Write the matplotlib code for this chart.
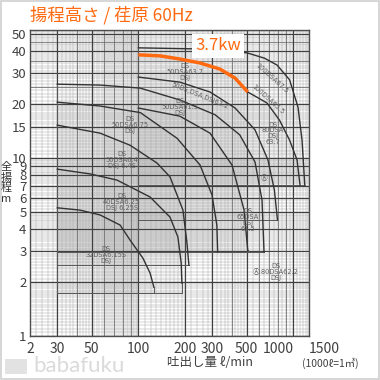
import numpy as np
import matplotlib
matplotlib.use("Agg")
import matplotlib.pyplot as plt
from matplotlib.patches import Rectangle

plt.rcParams["font.family"] = ["Noto Sans CJK JP", "DejaVu Sans"]

#
# Data: flow Q [L/min], head H [m]
#

# curves starting at 30 L/min
q_32 = [30, 41.9, 56.6, 76.3, 88.4, 107, 119, 126]
h_32 = [5.25, 5.10, 4.79, 4.20, 3.46, 2.74, 2.26, 1.88]
q_40 = [30, 48.8, 72.8, 119, 160, 180, 189, 191]
h_40 = [8.66, 8.14, 7.52, 6.04, 4.66, 3.60, 2.57, 1.98]
q_50_64 = [30, 56.6, 88.4, 132, 160, 194, 206, 212]
h_50_64 = [15.3, 13.8, 11.8, 9.37, 7.84, 5.10, 3.33, 2.50]
q_50_675 = [30, 56.6, 103, 178, 250, 299, 321, 325]
h_50_675 = [20.6, 19.6, 18.0, 12.9, 9.14, 6.19, 4.20, 2.96]
q_50_622 = [30, 56.6, 103, 185, 313, 451, 566, 628, 647]
h_50_622 = [26.0, 25.7, 24.7, 21.2, 17.5, 13.5, 9.50, 5.81, 2.96]

# curves starting at 100 L/min
q_50_615 = [100, 185, 290, 402, 481, 508]
h_50_615 = [19.1, 17.2, 13.8, 9.14, 5.10, 3.04]
q_50_637 = [100, 185, 290, 421, 566, 686, 755, 790]
h_50_637 = [28.5, 26.7, 23.5, 19.1, 14.4, 9.75, 6.60, 4.49]
q_100_655 = [508, 676, 815, 946, 1057, 1104]
h_100_655 = [23.5, 20.4, 16.3, 12.6, 9.75, 7.06]
q_100_675 = [100, 250, 502, 651, 785, 946, 1072, 1138, 1185]
h_100_675 = [41.6, 41.0, 39.0, 36.4, 33.3, 27.5, 19.3, 12.6, 7.06]

# highlighted 3.7kw curve
q_37kw = [100, 138, 185, 250, 336, 421, 508]
h_37kw = [38.0, 37.5, 36.0, 34.2, 31.6, 28.1, 23.5]

# bottom of each operating range
h_min_32 = 1.74
h_min_40 = 1.74
h_min_50_64 = 2.50
h_min_50_675 = 2.96
h_min_50_622 = 2.96
h_min_50_615 = 2.96
h_min_50_637 = 4.49
h_min_100 = 7.06

x_tick_vals = [20, 30, 50, 100, 200, 300, 500, 1000, 1260]
x_tick_labels = ["2", "30", "50", "100", "200", "300", "500", "1000", "1500"]
y_tick_vals = [1, 2, 3, 4, 5, 6, 7, 8, 9, 10, 15, 20, 30, 40, 50]

model_labels = [
    ("DS\n50DSA63.7\nDSJ", 200, 30.4, 0),
    ("50DS,DSA,DSJ62.2", 250, 22.3, -22),
    ("100DSA67.5", 728, 28.1, -42),
    ("100DSA65.5", 690, 21.5, -42),
    ("DS\n80DSA\nDSJ\n63.7", 740, 13.8, 0),
    ("DS\n50DSA61.5\nDSJ", 185, 19.3, 0),
    ("DS\n50DSA6.75\nDSJ", 88, 15.3, 0),
    ("DS\n50DSA6.4\nDSJ 6.4S", 78, 9.75, 0),
    ("DS\n40DSA6.25\nDSJ 6.25S", 78, 5.66, 0),
    ("DS\n32DSA6.15S\nDSJ", 61.5, 2.85, 0),
    ("DS\n65DSA\nDSJ\n61.5", 508, 4.49, 0),
    ("DS\nⒶ:80DSA62.2\nDSJ", 770, 2.29, 0),
    ("Ⓐ", 651, 7.73, 0),
]

ORANGE = "#FF6A10"

fig = plt.figure(figsize=(3.8, 3.8), dpi=100)
fig.patch.set_facecolor("white")
ax = fig.add_axes([30 / 380, 44 / 380, 279 / 380, 306 / 380])
ax.set_xscale("log")
ax.set_yscale("log")
ax.set_xlim(20, 1262)
ax.set_ylim(1, 52.4)

# graph paper grid
fine_x = np.concatenate([np.arange(20, 100, 2), np.arange(100, 200, 10),
                         np.arange(200, 500, 20), np.arange(500, 1270, 50)])
mid_x = np.concatenate([np.arange(20, 100, 10), np.arange(100, 1001, 100)])
dark_x = [30, 50, 100, 200, 300, 500, 1000]
fine_y = np.concatenate([np.arange(1, 2, 0.05), np.arange(2, 5, 0.1),
                         np.arange(5, 10, 0.2), np.arange(10, 20, 0.5),
                         np.arange(20, 52.4, 1)])
mid_y = np.concatenate([np.arange(1, 10, 1), np.arange(10, 51, 5)])

ax.vlines(fine_x, 1, 52.4, color="0.66", lw=0.35, zorder=2)
ax.hlines(fine_y, 20, 1262, color="0.66", lw=0.35, zorder=2)
ax.vlines(mid_x, 1, 52.4, color="0.42", lw=0.55, zorder=2)
ax.hlines(mid_y, 20, 1262, color="0.42", lw=0.55, zorder=2)
ax.vlines(dark_x, 1, 52.4, color="0.25", lw=0.85, zorder=2)
ax.hlines(y_tick_vals, 20, 1262, color="0.25", lw=0.85, zorder=2)

# operating ranges (shaded) and curves
ranges = [
    (q_32, h_32, h_min_32),
    (q_40, h_40, h_min_40),
    (q_50_64, h_50_64, h_min_50_64),
    (q_50_675, h_50_675, h_min_50_675),
    (q_50_622, h_50_622, h_min_50_622),
    (q_50_615, h_50_615, h_min_50_615),
    (q_50_637, h_50_637, h_min_50_637),
    (q_37kw + q_100_655[1:], h_37kw + h_100_655[1:], h_min_100),
    (q_100_675, h_100_675, h_min_100),
]
for q, h, hmin in ranges:
    px = [q[0]] + list(q) + [q[-1]]
    py = [hmin] + list(h) + [hmin]
    ax.fill(px, py, facecolor="0.5", alpha=0.065, edgecolor="none", zorder=1)
    ax.plot([q[0], q[0]], [hmin, h[0]], color="0.35", lw=0.7, zorder=3)
    ax.plot([q[0], q[-1]], [hmin, hmin], color="0.35", lw=0.7, zorder=3)
    ax.plot([q[-1], q[-1]], [h[-1], hmin], color="0.35", lw=0.7, zorder=3)

for q, h in [(q_32, h_32), (q_40, h_40), (q_50_64, h_50_64),
             (q_50_675, h_50_675), (q_50_622, h_50_622),
             (q_50_615, h_50_615), (q_50_637, h_50_637),
             (q_100_655, h_100_655), (q_100_675, h_100_675)]:
    ax.plot(q, h, color="0.2", lw=1.0, zorder=4)

ax.plot(q_37kw, h_37kw, color=ORANGE, lw=2.5, zorder=5, solid_capstyle="butt")

for txt, q, h, rot in model_labels:
    ax.text(q, h, txt, fontsize=4.8, color="0.38", ha="center", va="center",
            rotation=rot, linespacing=0.95, family=["DejaVu Sans", "Noto Sans CJK JP"],
            zorder=6)

# axes cosmetics
for s in ax.spines.values():
    s.set_color("0.3")
    s.set_linewidth(1.0)
ax.set_xticks([])
ax.minorticks_off()
ax.set_yticks(y_tick_vals)
ax.set_yticklabels([str(v) for v in y_tick_vals])
ax.tick_params(axis="y", length=0, pad=2.5, labelsize=9.5, labelcolor="0.25")
ax.yaxis.set_minor_locator(matplotlib.ticker.NullLocator())
ax.xaxis.set_minor_locator(matplotlib.ticker.NullLocator())

xt = ax.get_xaxis_transform()
for v, lab in zip(x_tick_vals, x_tick_labels):
    ha = "center"
    if lab == "1000":
        ha = "right"
    if lab == "1500":
        ha = "left"
    ax.text(v, -0.02, lab, transform=xt, ha=ha, va="top", fontsize=10, color="0.25")

# texts
fig.text(30 / 380, 1 - 15 / 380, "揚程高さ / 荏原 60Hz", color=ORANGE, fontsize=12.5,
         va="center", ha="left")
fig.text(218 / 380, 1 - 46 / 380, "3.7kw", color=ORANGE, fontsize=12, va="center",
         ha="center", bbox=dict(facecolor="white", edgecolor="none", pad=2.5))
fig.text(6 / 380, 1 - 183 / 380, "全\n揚\n程\nm", color="0.2", fontsize=8,
         ha="center", va="center", linespacing=1.05)
fig.text(210 / 380, 1 - 363 / 380, "吐出し量 ℓ/min", color="0.25", fontsize=9,
         ha="center", va="center")
fig.text(330 / 380, 1 - 363 / 380, "(1000ℓ=1㎥)", color="0.25", fontsize=7.5,
         ha="center", va="center")
fig.text(33 / 380, 1 - 366 / 380, "babafuku", color="#dadada", fontsize=16,
         ha="left", va="center", family=["Lato", "DejaVu Sans"])
fig.patches.append(Rectangle((5 / 380, 1 - 374 / 380), 22 / 380, 15 / 380,
                             transform=fig.transFigure, facecolor="#e2e2e2",
                             edgecolor="none"))
fig.patches.append(Rectangle((0.002, 0.002), 0.996, 0.996, transform=fig.transFigure,
                             facecolor="none", edgecolor="#cfcfcf", lw=1.2))

fig.savefig("out.png", dpi=100)
